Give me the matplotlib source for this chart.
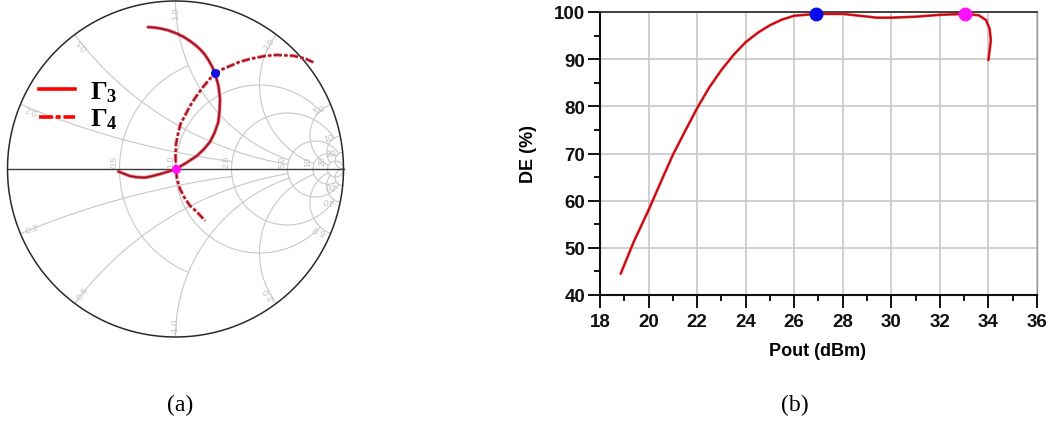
import numpy as np
import matplotlib
matplotlib.use("Agg")
import matplotlib.pyplot as plt
from matplotlib.ticker import MultipleLocator

plt.rcParams['font.family'] = ['Liberation Sans', 'DejaVu Sans']
plt.rcParams['mathtext.fontset'] = 'custom'
plt.rcParams['mathtext.rm'] = 'Liberation Serif'
plt.rcParams['mathtext.bf'] = 'Liberation Serif:bold'
plt.rcParams['mathtext.it'] = 'Liberation Serif:italic'
plt.rcParams['lines.scale_dashes'] = False

# ---- Smith chart data: reflection-coefficient trajectories ----
gamma3_re = [-0.164, -0.128, -0.092, -0.045, 0.009, 0.051, 0.086, 0.119, 0.146,
             0.173, 0.196, 0.217, 0.235, 0.256, 0.265, 0.262, 0.255, 0.232,
             0.205, 0.167, 0.126, 0.063, 0.003, -0.045, -0.092, -0.137,
             -0.182, -0.228, -0.271, -0.340]
gamma3_im = [0.845, 0.842, 0.837, 0.826, 0.806, 0.785, 0.762, 0.737, 0.713,
             0.683, 0.649, 0.611, 0.569, 0.494, 0.417, 0.345, 0.280, 0.214,
             0.161, 0.116, 0.077, 0.036, 0.000, -0.016, -0.030, -0.042,
             -0.051, -0.049, -0.042, -0.015]
gamma4_re = [0.820, 0.771, 0.701, 0.602, 0.533, 0.443, 0.380, 0.324, 0.278,
             0.235, 0.195, 0.160, 0.126, 0.094, 0.067, 0.030, 0.017, 0.003,
             0.000, 0.003, 0.009, 0.027, 0.051, 0.086, 0.128, 0.176]
gamma4_im = [0.635, 0.658, 0.674, 0.679, 0.673, 0.655, 0.637, 0.613, 0.593,
             0.569, 0.526, 0.483, 0.436, 0.388, 0.338, 0.268, 0.218, 0.149,
             0.071, 0.000, -0.060, -0.119, -0.167, -0.218, -0.256, -0.308]
gamma_blue = (0.235, 0.569)
gamma_magenta = (0.003, 0.000)

# Smith grid: resistance circles / reactance arcs and how far each is drawn
r_values = [0.5, 1, 2, 5, 10, 20]
r_x_limit = [1, 5, 10, 20, 20, np.inf]
x_values = [0.2, 0.5, 1, 2, 5, 10, 20]
x_r_limit = [2, 5, 5, 10, 20, 20, np.inf]
r_labels = ["0.5", "1.0", "2.0", "5.0", "10", "20"]
x_labels = ["0.2", "0.5", "1.0", "2.0", "5.0", "10", "20"]

# ---- Drain efficiency vs output power ----
pout_dbm = [18.85, 19.4, 20.0, 20.5, 21.0, 21.5, 22.0, 22.5, 23.0, 23.5, 24.0,
            24.5, 25.0, 25.5, 26.0, 26.9, 28.0, 28.7, 29.4, 30.0, 31.0, 32.0,
            33.05, 33.6, 33.9, 34.05, 34.1, 34.05, 34.0]
de_percent = [44.5, 51.4, 58.0, 63.9, 69.7, 74.7, 79.6, 84.0, 87.7, 90.9, 93.6,
              95.6, 97.2, 98.4, 99.2, 99.6, 99.6, 99.2, 98.8, 98.8, 99.0, 99.4,
              99.6, 99.3, 98.3, 96.4, 94.0, 92.0, 89.8]
blue_point = (26.9, 99.6)
magenta_point = (33.05, 99.6)
x_ticks = [18, 20, 22, 24, 26, 28, 30, 32, 34, 36]
y_ticks = [40, 50, 60, 70, 80, 90, 100]

W, H = 1056, 427
fig = plt.figure(figsize=(W / 100, H / 100), dpi=100)

# ---------------- (a) Smith chart ----------------
cx, cy, R = 175.5, 170.0, 168.0
lim = 1.02
half = lim * R
ax_s = fig.add_axes([(cx - half) / W, (H - cy - half) / H, 2 * half / W, 2 * half / H])
ax_s.set_xlim(-lim, lim)
ax_s.set_ylim(-lim, lim)
ax_s.axis('off')

grid_kw = dict(color='#c8c8c8', lw=0.8, zorder=1)
for r, xl in zip(r_values, r_x_limit):
    a = np.arctan(xl) if np.isfinite(xl) else np.pi / 2 - 1e-4
    x = np.tan(np.linspace(-a, a, 1500))
    z = r + 1j * x
    g = (z - 1) / (z + 1)
    ax_s.plot(g.real, g.imag, **grid_kw)
for xv, rl in zip(x_values, x_r_limit):
    a = np.arctan(rl) if np.isfinite(rl) else np.pi / 2 - 1e-4
    rr = np.tan(np.linspace(0, a, 800))
    for s in (1, -1):
        z = rr + 1j * s * xv
        g = (z - 1) / (z + 1)
        ax_s.plot(g.real, g.imag, **grid_kw)

t = np.linspace(0, 2 * np.pi, 720)
ax_s.plot(np.cos(t), np.sin(t), color='#2a2a2a', lw=1.1, zorder=2)
ax_s.plot([-1, 1], [0, 0], color='#3a3a3a', lw=1.0, zorder=2)

lab_kw = dict(color='#c0c0c0', fontsize=6.3, ha='center', va='center', zorder=1)
for r, txt in zip(r_values, r_labels):
    gx = (r - 1) / (r + 1)
    ax_s.text(gx - 0.03, 0.05, txt, rotation=90, **lab_kw)
for xv, txt in zip(x_values, x_labels):
    for s in (1, -1):
        ge = ((xv ** 2 - 1) + 2j * s * xv) / (xv ** 2 + 1)
        ang = np.degrees(np.angle(ge))
        pos = 0.93 * ge / abs(ge)
        rot = ang if s > 0 else ang + 180
        ax_s.text(pos.real, pos.imag, txt if s > 0 else '-' + txt, rotation=rot, **lab_kw)

# trajectories: red halo with a dark core
halo = dict(color='#ff3030', lw=2.4, alpha=0.8, zorder=3, solid_joinstyle='round',
            solid_capstyle='round', dash_joinstyle='round')
core = dict(color='#8a1830', lw=1.2, zorder=4, solid_joinstyle='round',
            solid_capstyle='round', dash_joinstyle='round')
ax_s.plot(gamma3_re, gamma3_im, **halo)
ax_s.plot(gamma3_re, gamma3_im, **core)
ax_s.plot(gamma4_re, gamma4_im, dashes=(6, 1.6, 2.5, 1.6), **halo)
ax_s.plot(gamma4_re, gamma4_im, dashes=(6, 1.6, 2.5, 1.6), **core)
ax_s.plot(*gamma_blue, 'o', color='#1010e0', ms=5.5, zorder=5)
ax_s.plot(*gamma_magenta, 'o', color='#ff10ff', ms=5.5, zorder=5)

# legend
def px2g(px, py):
    return (px - cx) / R, (cy - py) / R

x0, y0 = px2g(39, 90)
x1, _ = px2g(75, 90)
ax_s.plot([x0, x1], [y0, y0], color='#ff0000', lw=2.6, zorder=5)
x0, y1 = px2g(39, 118)
ax_s.plot([x0, x1], [y1, y1], color='#ff0000', lw=2.6, zorder=5, dashes=(10, 2, 3.6, 2))
tx, ty3 = px2g(90, 93)
_, ty4 = px2g(90, 120)
ax_s.text(tx, ty3, r'$\mathbf{\Gamma_3}$', fontsize=19, ha='left', va='center', zorder=6)
ax_s.text(tx, ty4, r'$\mathbf{\Gamma_4}$', fontsize=19, ha='left', va='center', zorder=6)

# ---------------- (b) DE vs Pout ----------------
left, right, top, bottom = 600, 1037, 13, 296
ax = fig.add_axes([left / W, (H - bottom) / H, (right - left) / W, (bottom - top) / H])
ax.plot(pout_dbm, de_percent, color='#ff1a1a', lw=1.9, zorder=3,
        solid_joinstyle='round', solid_capstyle='round')
ax.plot(pout_dbm, de_percent, color='#8c1020', lw=0.7, zorder=4,
        solid_joinstyle='round')
ax.plot(*blue_point, 'o', color='#0a0af0', ms=9, zorder=5, clip_on=False)
ax.plot(*magenta_point, 'o', color='#ff10ff', ms=9, zorder=5, clip_on=False)

ax.set_xlim(18, 36)
ax.set_ylim(40, 100)
ax.set_xticks(x_ticks, labels=[str(v) for v in x_ticks], fontweight='bold')
ax.set_yticks(y_ticks, labels=[str(v) for v in y_ticks], fontweight='bold')
ax.xaxis.set_minor_locator(MultipleLocator(1))
ax.yaxis.set_minor_locator(MultipleLocator(5))
ax.grid(True, which='major', color='#c8c8c8', lw=1.2, zorder=0)
ax.set_axisbelow(True)
ax.tick_params(which='major', length=9, width=1.4, labelsize=13.5, pad=1.5, colors='#111111')
ax.tick_params(which='minor', length=4.5, width=1.4, colors='#111111')
ax.tick_params(axis='x', pad=4)
for side in ('left', 'bottom'):
    ax.spines[side].set_linewidth(1.5)
    ax.spines[side].set_color('#111111')
ax.spines['top'].set_linewidth(1.3)
ax.spines['top'].set_color('#333333')
ax.spines['right'].set_linewidth(1.0)
ax.spines['right'].set_color('#9a9a9a')

ax.set_xlabel('Pout (dBm)', fontsize=13, fontweight='bold')
ax.set_ylabel('DE (%)', fontsize=13, fontweight='bold')
ax.xaxis.set_label_coords(0.497, -0.165)
ax.yaxis.set_label_coords(-0.145, 0.5)

fig.text(180 / W, 1 - 405 / H, '(a)', fontsize=17, family='Liberation Serif',
         ha='center', va='center')
fig.text(795 / W, 1 - 405 / H, '(b)', fontsize=17, family='Liberation Serif',
         ha='center', va='center')

fig.savefig('out.png', dpi=100)
